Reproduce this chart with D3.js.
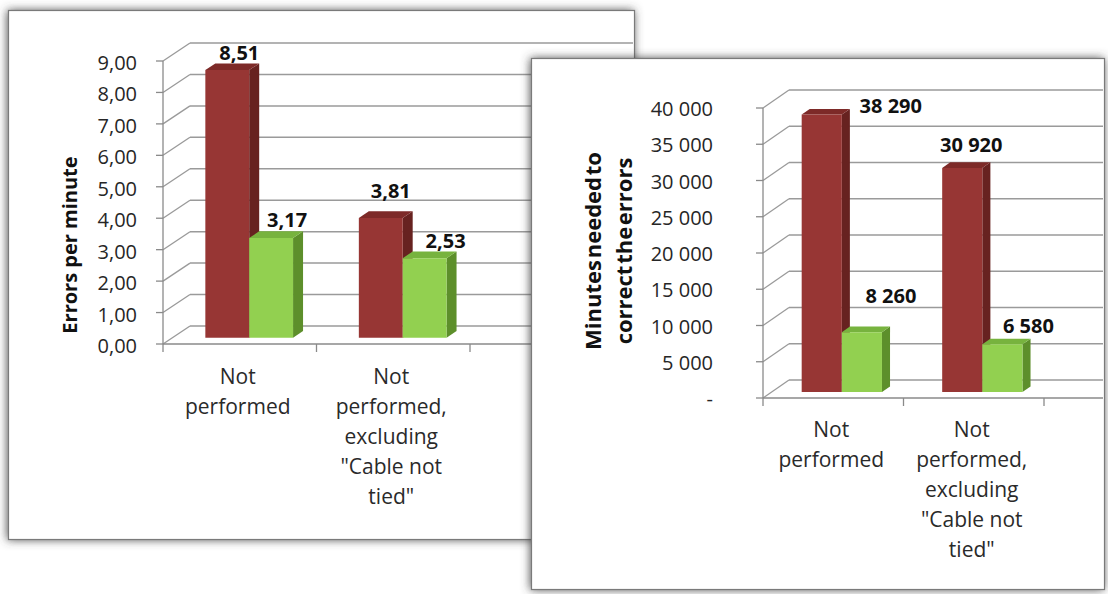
<!DOCTYPE html>
<html><head><meta charset="utf-8">
<script src="https://cdn.jsdelivr.net/npm/d3@7"></script>
<style>
body{margin:0;background:#fff;}
svg{display:block;font-family:"Open Sans",sans-serif;}
</style>
</head><body>
<svg id="chart" width="1108" height="594"></svg>
<script>
// ---------------- DATA ----------------
const categories = ["Not performed", "Not performed, excluding \"Cable not tied\""];
const categoryLines = [["Not", "performed"], ["Not", "performed,", "excluding", "\"Cable not", "tied\""]];

const errorsRed = [8.51, 3.81];
const errorsGreen = [3.17, 2.53];
const errorsLabels = [["8,51", "3,17"], ["3,81", "2,53"]];
const errorsTicks = [0, 1, 2, 3, 4, 5, 6, 7, 8, 9];
const errorsTickLabels = ["0,00", "1,00", "2,00", "3,00", "4,00", "5,00", "6,00", "7,00", "8,00", "9,00"];
const errorsTitle = ["Errors per minute"];

const minutesRed = [38290, 30920];
const minutesGreen = [8260, 6580];
const minutesLabels = [["38 290", "8 260"], ["30 920", "6 580"]];
const minutesTicks = [0, 5000, 10000, 15000, 20000, 25000, 30000, 35000, 40000];
const minutesTickLabels = ["-", "5 000", "10 000", "15 000", "20 000", "25 000", "30 000", "35 000", "40 000"];
const minutesTitle = ["Minutes needed to", "correct the errors"];

// ---------------- LAYOUT ----------------
const colors = {
  red:   {front: "#973634", side: "#672220", top: "#7d2a28"},
  green: {front: "#92d050", side: "#5d8f2b", top: "#77b33e"}
};

const charts = [
  {
    id: "left",
    panel: {x: 8, y: 10, w: 627, h: 530},
    x0: 163, bandW: 153.5, y0: 344, yTop: 61, max: 9,
    dx: 27, dy: -18, z0: 0.35, z1: 0.72,
    red: errorsRed, green: errorsGreen, labels: errorsLabels,
    ticks: errorsTicks, tickLabels: errorsTickLabels, tickLabelX: 137, tickLabelDy: 9,
    title: errorsTitle, titleX: [69], titleY: 245, titleSize: 20,
    labelOffsets: [[[7, -7], [11, -8]], [[5, -17], [16, -7]]],
    catBaseline: 384
  },
  {
    id: "right",
    panel: {x: 531, y: 58, w: 574, h: 532},
    x0: 763, bandW: 140.5, y0: 398, yTop: 108, max: 40000,
    dx: 26, dy: -18, z0: 0.33, z1: 0.64,
    red: minutesRed, green: minutesGreen, labels: minutesLabels,
    ticks: minutesTicks, tickLabels: minutesTickLabels, tickLabelX: 713, tickLabelDy: 8,
    title: minutesTitle, titleX: [592, 623], titleY: 251, titleSize: 22,
    labelOffsets: [[[65, 1], [25, -26]], [[5, -13], [22, -9]]],
    catBaseline: 437
  }
];

const svg = d3.select("#chart");
const defs = svg.append("defs");
const f = defs.append("filter").attr("id", "shadow")
  .attr("x", "-5%").attr("y", "-5%").attr("width", "110%").attr("height", "110%");
f.append("feDropShadow").attr("dx", -1).attr("dy", 0).attr("stdDeviation", 5)
  .attr("flood-color", "#444").attr("flood-opacity", 0.9);

charts.forEach(c => {
  const P = c.panel;
  const g = svg.append("g");
  g.append("rect").attr("x", P.x).attr("y", P.y).attr("width", P.w).attr("height", P.h)
    .attr("fill", "#fff").attr("filter", "url(#shadow)");
  g.append("rect").attr("x", P.x + 0.5).attr("y", P.y + 0.5).attr("width", P.w - 1).attr("height", P.h - 1)
    .attr("fill", "none").attr("stroke", "#7a7a7a").attr("stroke-width", 1.2);

  defs.append("clipPath").attr("id", "clip-" + c.id)
    .append("rect").attr("x", P.x + 1).attr("y", P.y + 1).attr("width", P.w - 3).attr("height", P.h - 2);
  const cg = g.append("g").attr("clip-path", "url(#clip-" + c.id + ")");

  const y = d3.scaleLinear().domain([0, c.max]).range([c.y0, c.yTop]);
  const xBand = d3.scaleBand().domain(categories).range([c.x0, c.x0 + c.bandW * categories.length]);
  const xSeries = d3.scaleBand().domain(["red", "green"]).range([0, xBand.bandwidth()])
    .paddingInner(0).paddingOuter(0.75);
  const pr = (x, v, z) => [x + z * c.dx, y(v) + z * c.dy];
  const right = P.x + P.w;
  const grid = "#9a9a9a";

  // side wall diagonals + back wall gridlines
  c.ticks.forEach(t => {
    const a = pr(c.x0, t, 0), b = pr(c.x0, t, 1);
    cg.append("line").attr("x1", a[0]).attr("y1", a[1]).attr("x2", b[0]).attr("y2", b[1])
      .attr("stroke", grid).attr("stroke-width", 1.3);
    cg.append("line").attr("x1", b[0]).attr("y1", b[1]).attr("x2", right).attr("y2", b[1])
      .attr("stroke", grid).attr("stroke-width", 1.5);
  });

  // front axes
  cg.append("line").attr("x1", c.x0).attr("y1", y(0)).attr("x2", c.x0).attr("y2", y(c.max))
    .attr("stroke", "#8a8a8a").attr("stroke-width", 1.3);
  cg.append("line").attr("x1", c.x0).attr("y1", y(0)).attr("x2", right).attr("y2", y(0))
    .attr("stroke", "#8a8a8a").attr("stroke-width", 1.5);
  c.ticks.forEach(t => {
    cg.append("line").attr("x1", c.x0 - 7).attr("y1", y(t)).attr("x2", c.x0).attr("y2", y(t))
      .attr("stroke", "#8a8a8a").attr("stroke-width", 1.3);
  });
  const bounds = categories.map(d => xBand(d)).concat([xBand(categories[categories.length - 1]) + xBand.bandwidth()]);
  bounds.forEach(bx => {
    cg.append("line").attr("x1", bx).attr("y1", y(0)).attr("x2", bx).attr("y2", y(0) + 8)
      .attr("stroke", "#8a8a8a").attr("stroke-width", 1.3);
  });

  // tick labels
  c.ticks.forEach((t, i) => {
    cg.append("text").attr("x", c.tickLabelX).attr("y", y(t) + c.tickLabelDy)
      .attr("text-anchor", "end").attr("font-size", 20).attr("fill", "#262626")
      .text(c.tickLabels[i]);
  });

  // axis title
  c.title.forEach((line, i) => {
    cg.append("text")
      .attr("transform", `translate(${c.titleX[i]},${c.titleY}) rotate(-90)`)
      .attr("text-anchor", "middle").attr("dominant-baseline", "central")
      .attr("font-size", c.titleSize).attr("font-weight", "bold").attr("fill", "#111")
      .attr("word-spacing", c.title.length > 1 ? -4 : 0)
      .text(line);
  });

  // bars
  const zm = (c.z0 + c.z1) / 2;
  const poly = pts => pts.map(p => p.join(",")).join(" ");
  categories.forEach((cat, ci) => {
    [["red", c.red[ci]], ["green", c.green[ci]]].forEach(([s, v], si) => {
      const bx = xBand(cat) + xSeries(s), w = xSeries.bandwidth();
      const col = colors[s];
      const front = [pr(bx, 0, c.z0), pr(bx + w, 0, c.z0), pr(bx + w, v, c.z0), pr(bx, v, c.z0)];
      const side = [pr(bx + w, 0, c.z0), pr(bx + w, 0, c.z1), pr(bx + w, v, c.z1), pr(bx + w, v, c.z0)];
      const top = [pr(bx, v, c.z0), pr(bx + w, v, c.z0), pr(bx + w, v, c.z1), pr(bx, v, c.z1)];
      cg.append("polygon").attr("points", poly(side)).attr("fill", col.side);
      cg.append("polygon").attr("points", poly(top)).attr("fill", col.top);
      cg.append("polygon").attr("points", poly(front)).attr("fill", col.front);
    });
  });
  // data labels
  categories.forEach((cat, ci) => {
    [["red", c.red[ci]], ["green", c.green[ci]]].forEach(([s, v], si) => {
      const bx = xBand(cat) + xSeries(s), w = xSeries.bandwidth();
      const p = pr(bx + w / 2, v, zm);
      const off = c.labelOffsets[ci][si];
      cg.append("text").attr("x", p[0] + off[0]).attr("y", p[1] + off[1])
        .attr("text-anchor", "middle").attr("font-size", 20).attr("font-weight", "bold")
        .attr("fill", "#111").text(c.labels[ci][si]);
    });
  });

  // category labels
  categories.forEach((cat, ci) => {
    const cx = xBand(cat) + xBand.bandwidth() / 2 - 2;
    categoryLines[ci].forEach((ln, li) => {
      cg.append("text").attr("x", cx).attr("y", c.catBaseline + li * 30)
        .attr("text-anchor", "middle").attr("font-size", 21).attr("fill", "#2a2a2a")
        .text(ln);
    });
  });
});
</script>
</body></html>
